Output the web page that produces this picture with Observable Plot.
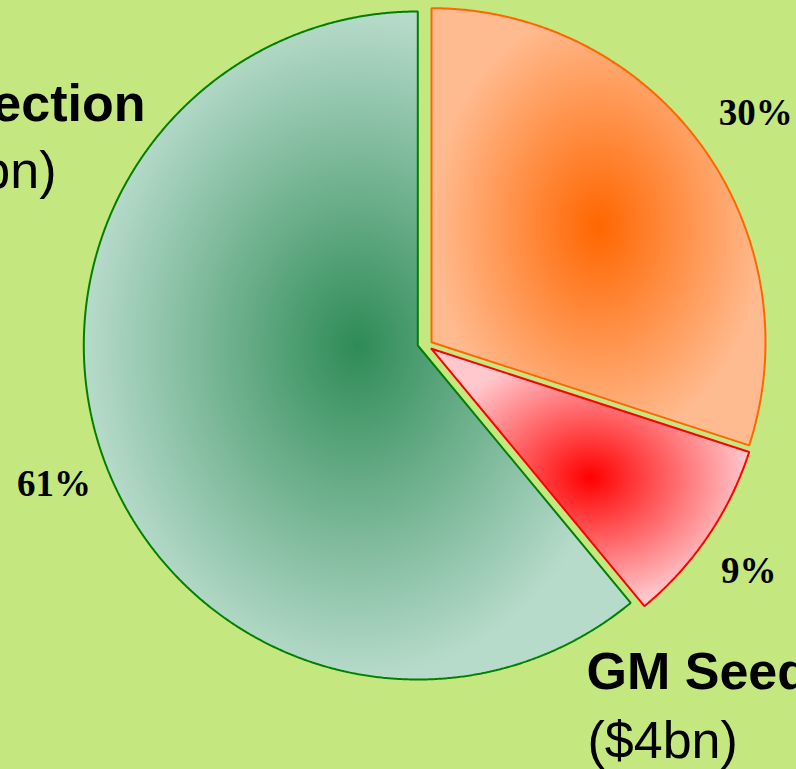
<!DOCTYPE html>
<html><head><meta charset="utf-8">
<script src="https://cdn.jsdelivr.net/npm/d3@7"></script>
<script src="https://cdn.jsdelivr.net/npm/@observablehq/plot@0.6"></script>
<style>
html,body{margin:0;padding:0;background:#c4e77f;overflow:hidden}
#chart svg{display:block}
</style></head><body><div id="chart"></div>
<script>
// ---- data ----
const categories = ["Seeds", "GM Seeds", "Crop Protection"];
const shares = [30, 9, 61];
const percentLabels = ["30%", "9%", "61%"];
const nameTitles = ["GM Seeds", "Crop Protection"];
const nameValues = ["($4bn)", "($27bn)"];

// ---- layout / style ----
const W = 796, H = 769, R = 334;
const centers = [[431, 341.7], [431, 348.3], [417.3, 345]];
const labelRadius = 392;
const labelNudge = [[7, 1], [-7, 2], [5, 6]];
const strokes = ["#ff6600", "#ff0000", "#008000"];
const gradStops = [["#ff6600", "#ffbb90"], ["#ff0000", "#ffc8cd"], ["#2e8b57", "#b7dbcb"]];
const bg = "#c4e77f";

const arcs = d3.pie().sort(null)(shares);

const slicePoints = arcs.map((a, i) => {
  const [cx, cy] = centers[i];
  const pts = [{x: cx, y: cy}];
  const n = Math.max(8, Math.ceil((a.endAngle - a.startAngle) / 0.005));
  for (let k = 0; k <= n; k++) {
    const t = a.startAngle + (a.endAngle - a.startAngle) * k / n;
    pts.push({x: cx + R * Math.sin(t), y: cy - R * Math.cos(t)});
  }
  pts.push({x: cx, y: cy});
  return pts;
});

const labelData = arcs.map((a, i) => {
  const m = (a.startAngle + a.endAngle) / 2;
  const [cx, cy] = centers[i];
  return {text: percentLabels[i],
          x: cx + labelRadius * Math.sin(m) + labelNudge[i][0],
          y: cy - labelRadius * Math.cos(m) + labelNudge[i][1]};
});

const nameData = [
  {title: nameTitles[0], value: nameValues[0], x: 586, y1: 688, y2: 757, anchor: "start", x2: 587},
  {title: nameTitles[1], value: nameValues[1], x: 145, y1: 120, y2: 187, anchor: "end", x2: 56}
];

const marks = [];
slicePoints.forEach((pts, i) => {
  marks.push(Plot.line(pts, {x: "x", y: "y", fill: `url(#grad${i})`, stroke: strokes[i], strokeWidth: 2, strokeLinejoin: "miter", curve: "linear"}));
});
marks.push(Plot.text(labelData, {x: "x", y: "y", text: "text", fontFamily: "Liberation Serif", fontWeight: "bold", fontSize: 37, fill: "black", textAnchor: "middle", lineAnchor: "middle"}));
nameData.forEach(d => {
  marks.push(Plot.text([d], {x: "x", y: "y1", text: "title", fontFamily: "Liberation Sans", fontWeight: "bold", fontSize: 52, fill: "black", textAnchor: d.anchor, lineAnchor: "bottom"}));
  marks.push(Plot.text([d], {x: "x2", y: "y2", text: "value", fontFamily: "Liberation Sans", fontSize: 52, fill: "black", textAnchor: d.anchor, lineAnchor: "bottom"}));
});

const chart = Plot.plot({
  width: W, height: H,
  margin: 0,
  x: {domain: [0, W], range: [0, W], axis: null},
  y: {domain: [0, H], range: [0, H], axis: null},
  style: {background: bg, overflow: "hidden"},
  marks
});

// gradient definitions
const ns = "http://www.w3.org/2000/svg";
const defs = document.createElementNS(ns, "defs");
gradStops.forEach(([c0, c1], i) => {
  const g = document.createElementNS(ns, "radialGradient");
  g.setAttribute("id", `grad${i}`);
  g.setAttribute("cx", "0.5"); g.setAttribute("cy", "0.5"); g.setAttribute("r", "0.5");
  [[0, c0], [1, c1]].forEach(([o, c]) => {
    const s = document.createElementNS(ns, "stop");
    s.setAttribute("offset", o); s.setAttribute("stop-color", c);
    g.appendChild(s);
  });
  defs.appendChild(g);
});
chart.insertBefore(defs, chart.firstChild);
document.getElementById("chart").appendChild(chart);
</script>
</body></html>
